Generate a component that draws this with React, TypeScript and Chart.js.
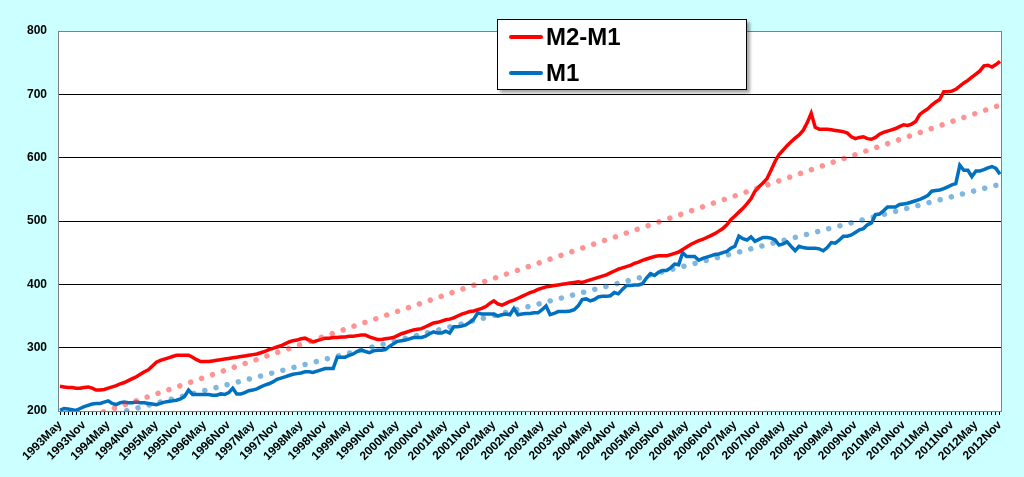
import { useEffect, useRef } from "react";
import { Chart, registerables } from "chart.js";

Chart.register(...registerables);

// monthly categories, 1993May .. 2012Nov
const monthNames = ["Jan", "Feb", "Mar", "Apr", "May", "Jun", "Jul", "Aug", "Sep", "Oct", "Nov", "Dec"];
const startYear = 1993;
const startMonth = 4; // May
const monthCount = 235;
const categories: string[] = [];
for (let i = 0; i < monthCount; i++) {
  const m = startMonth + i;
  categories.push(`${startYear + Math.floor(m / 12)}${monthNames[m % 12]}`);
}

const m2m1 = [
  239, 238, 237, 237, 236, 236, 237, 238, 236, 233, 233, 234,
  236, 238, 240, 243, 245, 248, 251, 254, 258, 262, 265, 271,
  277, 280, 282, 284, 286, 288, 288, 288, 288, 285, 281, 278,
  278, 278, 279, 280, 281, 282, 283, 284, 285, 286, 287, 288,
  289, 290, 292, 294, 297, 299, 301, 303, 306, 309, 311, 312,
  314, 315, 312, 309, 311, 313, 315, 315, 316, 316, 317, 317,
  318, 318, 319, 320, 320, 317, 315, 313, 313, 314, 315, 316,
  319, 322, 324, 326, 328, 329, 330, 333, 336, 339, 340, 342,
  344, 345, 347, 350, 353, 355, 357, 358, 360, 362, 365, 370,
  374, 369, 367, 370, 373, 375, 378, 381, 384, 387, 389, 392,
  394, 396, 397, 398, 399, 400, 401, 402, 403, 404, 403, 405,
  407, 409, 411, 413, 415, 418, 421, 424, 426, 428, 430, 433,
  435, 438, 440, 442, 444, 445, 445, 445, 447, 449, 451, 455,
  459, 463, 466, 469, 471, 474, 477, 480, 484, 488, 494, 502,
  508, 514, 520, 527, 535, 547, 554, 560, 567, 580, 594, 605,
  612, 619, 625, 631, 636, 643, 655, 670, 648, 645, 645, 645,
  644, 643, 642, 641, 639, 633, 630, 632, 633, 630, 629, 632,
  637, 640, 642, 644, 646, 649, 652, 651, 653, 657, 668, 673,
  677, 683, 688, 692, 704, 704, 705, 708, 713, 718, 722, 727,
  732, 737, 745, 746, 743, 747, 752,
];

const m1 = [
  201, 204, 203, 202, 201, 204, 207, 209, 211, 212, 212, 214,
  216, 212, 210, 213, 214, 213, 213, 214, 213, 213, 212, 211,
  210, 212, 214, 215, 216, 217, 219, 223, 233, 226, 226, 226,
  226, 226, 225, 225, 227, 226, 229, 236, 227, 227, 229, 232,
  233, 235, 238, 241, 243, 246, 250, 252, 254, 256, 258, 259,
  260, 262, 262, 261, 263, 265, 267, 267, 267, 285, 285, 285,
  288, 290, 294, 296, 294, 292, 295, 296, 296, 297, 302, 306,
  310, 311, 312, 314, 316, 316, 316, 318, 322, 325, 323, 323,
  326, 323, 333, 333, 334, 336, 340, 345, 355, 353, 353, 353,
  353, 350, 352, 353, 352, 362, 352, 353, 354, 354, 355, 355,
  360, 366, 352, 354, 357, 357, 357, 358, 360, 366, 376, 377,
  374, 376, 380, 381, 381, 382, 387, 385, 392, 398, 398, 399,
  399, 401, 410, 417, 414, 419, 422, 422, 426, 432, 431, 450,
  444, 444, 444, 438, 441, 443, 445, 447, 448, 450, 452, 457,
  460, 476, 472, 470, 475, 468, 471, 474, 474, 473, 470, 462,
  464, 467, 460, 453, 460, 458, 457, 457, 457, 456, 453, 458,
  466, 465, 470, 476, 476, 478, 482, 486, 488, 494, 497, 510,
  511, 516, 522, 522, 522, 526, 527, 528, 530, 532, 534, 537,
  540, 547, 548, 549, 551, 554, 557, 559, 588, 580, 580, 570,
  579, 579, 581, 584, 586, 583, 574,
];

// linear trend lines: values at the first and last month
const m2m1TrendEnds = [175, 683];
const m1TrendEnds = [173, 558];

const yTicks = [200, 300, 400, 500, 600, 700, 800];

const FONT = "'Liberation Sans', Arial, sans-serif";

function trendSeries(ends: number[]) {
  const arr: (number | null)[] = new Array(monthCount).fill(null);
  arr[0] = ends[0];
  arr[monthCount - 1] = ends[1];
  return arr;
}

const plotFrame = {
  id: "plotFrame",
  beforeDraw(chart: Chart) {
    const { ctx, chartArea: a } = chart;
    ctx.save();
    ctx.fillStyle = "#ffffff";
    ctx.fillRect(a.left, a.top, a.right - a.left, a.bottom - a.top);
    ctx.restore();
  },
  beforeDatasetsDraw(chart: Chart) {
    const { ctx, chartArea: a } = chart;
    ctx.save();
    ctx.strokeStyle = "#808080";
    ctx.lineWidth = 1;
    ctx.strokeRect(a.left + 0.5, a.top + 0.5, a.right - a.left - 1, a.bottom - a.top);
    ctx.restore();
  },
};

export default function App() {
  const chartRef = useRef<HTMLCanvasElement>(null);
  const chartInstance = useRef<Chart | null>(null);

  useEffect(() => {
    if (!chartRef.current) return;
    const ctx = chartRef.current.getContext("2d");
    if (!ctx) return;
    if (chartInstance.current) chartInstance.current.destroy();

    chartInstance.current = new Chart(ctx, {
      type: "line",
      data: {
        labels: categories,
        datasets: [
          {
            label: "M2-M1 trend",
            data: trendSeries(m2m1TrendEnds),
            borderColor: "rgba(255, 40, 40, 0.5)",
            borderWidth: 5.5,
            borderDash: [0.01, 11.5],
            borderCapStyle: "round",
            spanGaps: true,
            pointRadius: 0,
            order: 0,
          },
          {
            label: "M1 trend",
            data: trendSeries(m1TrendEnds),
            borderColor: "rgba(0, 112, 192, 0.5)",
            borderWidth: 5.5,
            borderDash: [0.01, 11.5],
            borderCapStyle: "round",
            spanGaps: true,
            pointRadius: 0,
            order: 0,
          },
          {
            label: "M2-M1",
            data: m2m1,
            borderColor: "#FF0000",
            borderWidth: 3.5,
            pointRadius: 0,
            tension: 0,
            order: 1,
          },
          {
            label: "M1",
            data: m1,
            borderColor: "#0070C0",
            borderWidth: 3.5,
            pointRadius: 0,
            tension: 0,
            order: 2,
          },
        ],
      },
      options: {
        responsive: false,
        animation: false,
        layout: { padding: { left: 0, top: 31, right: 22, bottom: 0 } },
        plugins: {
          legend: { display: false },
          tooltip: { enabled: false },
        },
        scales: {
          x: {
            type: "category",
            offset: true,
            afterFit: (scale: any) => {
              scale.height = 66;
            },
            border: { display: false },
            grid: {
              drawOnChartArea: false,
              drawTicks: true,
              tickLength: 4,
              color: "#000000",
            },
            ticks: {
              autoSkip: false,
              minRotation: 45,
              maxRotation: 45,
              padding: 3,
              color: "#000000",
              font: { family: FONT, size: 12, weight: "bold" },
              callback: (_v: any, idx: number) => (idx % 6 === 0 ? categories[idx] : ""),
            },
          },
          y: {
            min: yTicks[0],
            max: yTicks[yTicks.length - 1],
            afterFit: (scale: any) => {
              scale.width = 58;
            },
            afterBuildTicks: (scale: any) => {
              scale.ticks = yTicks.map((v) => ({ value: v }));
            },
            border: { display: false },
            grid: {
              drawTicks: false,
              color: (c: any) =>
                c.tick && (c.tick.value === 200 || c.tick.value === 800) ? "rgba(0,0,0,0)" : "#000000",
              lineWidth: 1,
            },
            ticks: {
              padding: 11,
              color: "#000000",
              font: { family: FONT, size: 12, weight: "bold" },
            },
          },
        },
      },
      plugins: [plotFrame],
    });

    return () => {
      if (chartInstance.current) {
        chartInstance.current.destroy();
        chartInstance.current = null;
      }
    };
  }, []);

  const legendItems = [
    { label: "M2-M1", color: "#FF0000", top: 3 },
    { label: "M1", color: "#0070C0", top: 39 },
  ];

  return (
    <div
      style={{
        position: "fixed",
        left: 0,
        top: 0,
        width: 1024,
        height: 477,
        background: "#CCFFFF",
        overflow: "hidden",
      }}
    >
      <canvas ref={chartRef} width={1024} height={477} style={{ display: "block" }}></canvas>
      <div
        style={{
          position: "absolute",
          left: 497,
          top: 19,
          width: 248,
          height: 69,
          background: "#ffffff",
          border: "1px solid #000000",
          boxShadow: "3px 3px 3px rgba(0,0,0,0.35)",
        }}
      >
        {legendItems.map((it) => (
          <div
            key={it.label}
            style={{
              position: "absolute",
              left: 11,
              top: it.top,
              height: 28,
              display: "flex",
              alignItems: "center",
            }}
          >
            <span
              style={{
                display: "inline-block",
                width: 34,
                height: 4,
                borderRadius: 2,
                background: it.color,
                marginRight: 3,
              }}
            ></span>
            <span style={{ fontFamily: FONT, fontWeight: "bold", fontSize: 24, color: "#000", lineHeight: "28px" }}>
              {it.label}
            </span>
          </div>
        ))}
      </div>
    </div>
  );
}
